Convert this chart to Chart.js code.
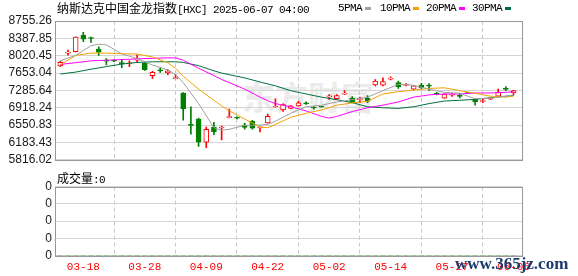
<!DOCTYPE html>
<html>
<head>
<meta charset="utf-8">
<script src="https://cdn.jsdelivr.net/npm/chart.js@4"></script>
<style>
  body { margin: 0; background: #fff; }
  #wrap { position: relative; width: 578px; height: 276px; overflow: hidden; }
  canvas { position: absolute; left: 0; z-index: 1; }
  #price { top: 0; }
  #vol { top: 170px; }
  .t { position: absolute; white-space: nowrap; font-size: 12px; line-height: 14px; color: #000; z-index: 2; }
  .cn { font-family: 'Noto Sans CJK SC'; }
  .mono { font-family: 'Liberation Mono'; font-size: 11px; letter-spacing: -0.6px; }
  .sw { position: absolute; width: 6px; height: 3px; top: 7px; z-index: 2; }
  #mark { position: absolute; left: 242px; top: 72px; font: bold 33px 'Noto Sans CJK SC'; color: #ebebeb; z-index: 0; }
  #site { position: absolute; left: 455px; top: 254px; font: bold 17px 'Liberation Serif'; color: #1d3b6e; z-index: 3; }
</style>
</head>
<body>
<div id="wrap">
  <div id="mark">东方财富</div>
  <canvas id="price" width="578" height="170"></canvas>
  <canvas id="vol" width="578" height="106"></canvas>
  <div class="t" style="left:57px;top:1px"><span class="cn">纳斯达克中国金龙指数</span><span class="mono">[HXC] 2025-06-07 04:00</span></div>
  <div class="t mono" style="left:338px;top:1px">5PMA</div>
  <div class="sw" style="left:365px;background:#a0a0a0"></div>
  <div class="t mono" style="left:380px;top:1px">10PMA</div>
  <div class="sw" style="left:413px;background:#f5a000"></div>
  <div class="t mono" style="left:426px;top:1px">20PMA</div>
  <div class="sw" style="left:459px;background:#ff00ff"></div>
  <div class="t mono" style="left:472px;top:1px">30PMA</div>
  <div class="sw" style="left:505px;background:#006f3c"></div>
  <div class="t" style="left:57px;top:171px"><span class="cn">成交量</span><span class="mono">:0</span></div>
  <div id="site">www.365jz.com</div>
</div>
<script>
const DATES = [
  '03-13','03-14','03-17','03-18','03-19','03-20','03-21','03-24','03-25','03-26',
  '03-27','03-28','03-31','04-01','04-02','04-03','04-04','04-07','04-08','04-09',
  '04-10','04-11','04-14','04-15','04-16','04-17','04-21','04-22','04-23','04-24',
  '04-25','04-28','04-29','04-30','05-01','05-02','05-05','05-06','05-07','05-08',
  '05-09','05-12','05-13','05-14','05-15','05-16','05-19','05-20','05-21','05-22',
  '05-23','05-27','05-28','05-29','05-30','06-02','06-03','06-04','06-05','06-06'
];
const OPEN = [
  7805, 8075, 8108, 8450, 8392, 8163, 7918, 7918, 7862, 7850,
  7925, 7857, 7600, 7715, 7655, 7535, 7231, 6560, 6680, 6190,
  6510, 6490, 6710, 6706, 6551, 6630, 6490, 6598, 6935, 6871,
  6904, 6959, 7012, 6925, 6945, 7150, 7108, 7206, 7122, 7090,
  7122, 7402, 7394, 7525, 7449, 7390, 7312, 7394, 7388, 7216,
  7122, 7184, 7170, 7230, 7096, 7050, 7100, 7163, 7318, 7231
];
const HIGH = [
  7905, 8140, 8420, 8516, 8414, 8210, 7959, 7935, 7939, 7912,
  8040, 7878, 7688, 7755, 7720, 7618, 7240, 6939, 6700, 6510,
  6612, 6531, 6892, 6725, 6592, 6653, 6512, 6782, 7108, 7000,
  6965, 7055, 7041, 6945, 6955, 7196, 7196, 7280, 7157, 7143,
  7177, 7516, 7551, 7572, 7484, 7430, 7390, 7435, 7429, 7245,
  7215, 7225, 7225, 7240, 7105, 7096, 7130, 7312, 7367, 7285
];
const LOW = [
  7790, 8030, 8100, 8320, 8300, 8027, 7823, 7895, 7769, 7790,
  7880, 7708, 7537, 7667, 7620, 7530, 6653, 6361, 6102, 6075,
  6347, 6239, 6705, 6680, 6463, 6463, 6408, 6590, 6930, 6843,
  6898, 6950, 6990, 6890, 6930, 7094, 7100, 7200, 7027, 7027,
  7027, 7382, 7382, 7505, 7327, 7380, 7300, 7312, 7280, 7190,
  7115, 7160, 7129, 7215, 6973, 7027, 7090, 7155, 7280, 7190
];
const CLOSE = [
  7878, 8090, 8414, 8370, 8384, 8096, 7906, 7906, 7852, 7864,
  7950, 7722, 7667, 7702, 7698, 7540, 6892, 6545, 6190, 6463,
  6414, 6502, 6718, 6696, 6500, 6486, 6500, 6735, 6943, 6986,
  6959, 7020, 7000, 6912, 6935, 7163, 7178, 7214, 7041, 7100,
  7055, 7484, 7470, 7537, 7367, 7398, 7382, 7341, 7376, 7204,
  7208, 7196, 7158, 7220, 7041, 7061, 7114, 7245, 7306, 7280
];
const VOLUME = [
  0, 0, 0, 0, 0, 0, 0, 0, 0, 0, 0, 0, 0, 0, 0, 0, 0, 0, 0, 0,
  0, 0, 0, 0, 0, 0, 0, 0, 0, 0, 0, 0, 0, 0, 0, 0, 0, 0, 0, 0,
  0, 0, 0, 0, 0, 0, 0, 0, 0, 0, 0, 0, 0, 0, 0, 0, 0, 0, 0, 0
];

// moving averages, read at these candle positions
const MA_IDX = [0, 2, 4, 5, 6, 8, 10, 12, 14, 15, 16, 18, 20, 21, 22, 24, 26, 27,
  28, 30, 32, 34, 35, 36, 38, 40, 42, 44, 46, 48, 50, 52, 54, 56, 58, 59];
const MA5 = [7912, 8027, 8231, 8265, 8250, 8061, 7959, 7823, 7720, 7618, 7449, 7006,
  6496, 6443, 6463, 6545, 6551, 6565, 6633, 6802, 6939, 6973, 7006, 7041, 7088, 7143,
  7280, 7414, 7394, 7312, 7245, 7225, 7108, 7122, 7163, 7190];
const MA10 = [7823, 8027, 8076, 8076, 8076, 8061, 8055, 7994, 7872, 7755, 7586, 7312,
  7076, 6959, 6851, 6680, 6510, 6496, 6565, 6714, 6802, 6871, 6918, 6973, 7020, 7055,
  7210, 7259, 7292, 7327, 7341, 7280, 7225, 7163, 7143, 7163];
const MA20 = [7837, 7872, 7912, 7918, 7925, 7939, 7953, 7965, 7974, 7974, 7925, 7755,
  7598, 7516, 7449, 7312, 7143, 7067, 7006, 6939, 6851, 6735, 6700, 6735, 6837, 6918,
  6973, 7041, 7143, 7190, 7210, 7210, 7231, 7231, 7245, 7259];
const MA30 = [7633, 7673, 7735, 7761, 7790, 7843, 7878, 7892, 7892, 7892, 7878, 7810,
  7700, 7653, 7618, 7551, 7463, 7423, 7382, 7280, 7210, 7143, 7116, 7088, 7027, 6939,
  6918, 6904, 6939, 7006, 7061, 7076, 7096, 7129, 7163, 7178];

const PRICE_TICKS = [5816.02, 6183.43, 6550.83, 6918.24, 7285.64, 7653.04, 8020.45, 8387.85, 8755.26];
const VOL_TICKS = ['0', '0', '0', '0', '0'];
const LABEL_IDX = [3, 11, 19, 27, 35, 43, 51, 59];

const RED = '#ff0000';
const GREEN = '#008000';
const X_MIN = -0.69, X_MAX = 60.1;

const isUp = i => CLOSE[i] >= OPEN[i];

// gray box round the plot area
const frame = {
  id: 'frame',
  afterDraw(chart) {
    const a = chart.chartArea, c = chart.ctx;
    c.save();
    c.strokeStyle = '#999';
    c.lineWidth = 1;
    c.strokeRect(Math.round(a.left) + 0.5, Math.round(a.top) + 0.5,
      Math.round(a.right - a.left), Math.round(a.bottom - a.top));
    c.restore();
  }
};

function xAxis(showLabels, height) {
  return {
    type: 'linear', min: X_MIN, max: X_MAX, offset: false,
    afterBuildTicks: ax => { ax.ticks = LABEL_IDX.map(v => ({ value: v })); },
    afterFit: ax => { ax.height = height; },
    ticks: {
      display: showLabels, color: RED, padding: 5, maxRotation: 0, autoSkip: false,
      font: { family: 'Liberation Mono', size: 11 },
      callback: v => DATES[v]
    },
    grid: { color: '#c8c8c8', drawTicks: false },
    border: { display: false, dash: [4, 3] }
  };
}

function maLine(values, color) {
  return {
    type: 'line',
    data: MA_IDX.map((x, k) => ({ x: x, y: values[k] })),
    borderColor: color, borderWidth: 1, pointRadius: 0, tension: 0, order: 0
  };
}

function addPriceChart() {
  const ctx = document.getElementById('price');
  const idx = DATES.map((d, i) => i);

  new Chart(ctx, {
    type: 'bar',
    data: {
      datasets: [
        maLine(MA5, '#a0a0a0'),
        maLine(MA10, '#f5a000'),
        maLine(MA20, '#ff00ff'),
        maLine(MA30, '#006f3c'),
        {
          // bodies
          data: idx.map(i => ({ x: i, y: [OPEN[i], CLOSE[i]] })),
          backgroundColor: idx.map(i => isUp(i) ? '#ffffff' : GREEN),
          borderColor: idx.map(i => isUp(i) ? RED : GREEN),
          borderWidth: 1, borderSkipped: false,
          barThickness: 5, minBarLength: 1, grouped: false, order: 1
        },
        {
          // wicks
          data: idx.map(i => ({ x: i, y: [LOW[i], HIGH[i]] })),
          backgroundColor: idx.map(i => isUp(i) ? RED : GREEN),
          borderWidth: 0, barThickness: 1, grouped: false, order: 2
        }
      ]
    },
    options: {
      responsive: false,
      animation: false,
      layout: { padding: { top: 21, right: 56, left: 0, bottom: 0 } },
      plugins: { legend: { display: false }, tooltip: { enabled: false } },
      scales: {
        x: xAxis(false, 5),
        y: {
          min: PRICE_TICKS[0], max: PRICE_TICKS[PRICE_TICKS.length - 1],
          afterBuildTicks: ax => { ax.ticks = PRICE_TICKS.map(v => ({ value: v })); },
          afterFit: ax => { ax.width = 55; },
          ticks: {
            padding: 3, color: '#1a1a1a', autoSkip: false,
            font: { family: 'Liberation Sans', size: 12 },
            callback: v => v.toFixed(2)
          },
          grid: { color: '#d4d4d4', drawTicks: false },
          border: { display: false }
        }
      }
    },
    plugins: [frame]
  });
}

function addVolumeChart() {
  const ctx = document.getElementById('vol');

  new Chart(ctx, {
    type: 'bar',
    data: {
      datasets: [{
        data: VOLUME.map((v, i) => ({ x: i, y: v })),
        backgroundColor: GREEN, barThickness: 5
      }]
    },
    options: {
      responsive: false,
      animation: false,
      layout: { padding: { top: 16.7, right: 56, left: 0, bottom: 0 } },
      plugins: { legend: { display: false }, tooltip: { enabled: false } },
      scales: {
        x: xAxis(true, 20.5),
        y: {
          min: 0, max: VOL_TICKS.length - 1,
          afterBuildTicks: ax => { ax.ticks = VOL_TICKS.map((t, i) => ({ value: i })); },
          afterFit: ax => { ax.width = 55; },
          ticks: {
            padding: 3, color: '#1a1a1a', autoSkip: false,
            font: { family: 'Liberation Sans', size: 12 },
            callback: (v, i) => VOL_TICKS[i]
          },
          grid: { color: '#d4d4d4', drawTicks: false },
          border: { display: false }
        }
      }
    },
    plugins: [frame]
  });
}

addPriceChart();
addVolumeChart();
</script>
</body>
</html>
